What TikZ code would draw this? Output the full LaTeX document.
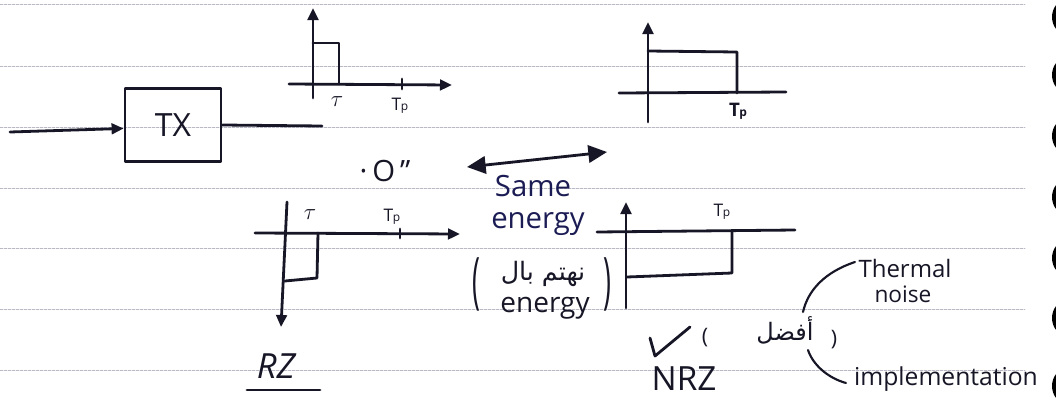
\documentclass[tikz,border=0pt]{standalone}
\usepackage{fontspec}
\setmainfont{Open Sans}
\newfontfamily\arabicfont[Script=Arabic]{DejaVu Sans}
\TeXXeTstate=1
\usetikzlibrary{arrows.meta}
\definecolor{ink}{RGB}{22,22,38}
\definecolor{blueink}{RGB}{28,28,85}
\definecolor{rulecol}{RGB}{185,185,198}
\newcommand{\fs}[1]{\fontsize{#1}{#1}\selectfont}
\newcommand{\Tpl}{T\kern-0.3pt{\fs{9}p}}
\begin{document}
\begin{tikzpicture}[x=0.75pt,y=-0.75pt,line cap=round,line join=round,
  pen/.style={draw=ink,line width=2.1pt},
  tip/.style={-{Triangle[length=9pt,width=8pt]}},
  bigtips/.style={{Triangle[length=14pt,width=13pt]}-{Triangle[length=14pt,width=13pt]}},
  lbl/.style={inner sep=0pt,text=ink},
  blbl/.style={inner sep=0pt,text=blueink}]
\fill[white] (0,0) rectangle (1056,400);
\useasboundingbox (0,0) rectangle (1056,400);
% ruled paper
\foreach \yy in {4,66,127,188,248,309,370}
  \draw[rulecol,line width=0.5pt,dash pattern=on 2pt off 1pt] (0,\yy) -- (1025,\yy);
% binder holes
\foreach \yy in {17,75,136,197,258,318,386}
  \fill[black] (1066,\yy) ellipse [x radius=14, y radius=17];

% ---- transmitter
\node[draw=ink,line width=2.1pt,minimum width=72pt,minimum height=55pt,inner sep=0pt,
      text=ink,font=\fs{24}] (tx) at (173,125) {TX};
\coordinate (in) at (10,132);
\coordinate (out) at (322,126);
\draw[pen,tip] (in) -- (tx.184);
\draw[pen] (tx.east) -- (out);

% ---- top-left pulse (short)
\draw[pen,tip] (313,98) -- (313,8);
\draw[pen,tip] (289,84) -- (452,85);
\draw[pen] (313,43) -- (339,43) -- (339,84);
\draw[pen] (402,79) -- (402,89);
\node[lbl,font=\fs{18}] (tau1) at (337,102) {$\tau$};
\node[lbl,font=\fs{13}] (tp1) at (400,106) {\Tpl};

% ---- top-right pulse (full)
\draw[pen,tip] (648,122) -- (648,22);
\draw[pen] (619,93) -- (786,92);
\draw[pen] (648,51) -- (737,52) -- (737,93);
\node[lbl,font=\fs{14}\bfseries] (tp2) at (738,111) {\Tpl};

% ---- "0"
\node[lbl,font=\fs{22}] (zero) at (385,171) {·\,O\,"};

% ---- same energy
\coordinate (eL) at (467,167);
\coordinate (eR) at (607,152);
\draw[pen,bigtips] (eL) -- (eR);
\node[blbl,font=\fs{22}] (same) at (533,186) {Same};
\node[blbl,font=\fs{22}] (energy) at (538,224) {energy};
\node[lbl,font=\fs{20}] (lp) at (476,284) {\scalebox{1}[2.3]{(}};
\node[lbl,font=\fs{20}] (rp) at (607,284) {\scalebox{1}[2.3]{)}};
\node[lbl,font=\fs{19}\arabicfont] (ar1) at (543,274) {\beginR نهتم بال\endR};
\node[lbl,font=\fs{21}] (energy2) at (545,308) {energy};

% ---- RZ
\draw[pen,tip] (255,233) -- (460,234);
\draw[pen,tip] (287,202) -- (281,327);
\draw[pen] (318,233) -- (317,278) -- (285,281);
\draw[pen] (400,229) -- (400,238);
\node[lbl,font=\fs{18}] (tau2) at (310,215) {$\tau$};
\node[lbl,font=\fs{13}] (tp3) at (392,217) {\Tpl};
\node[lbl,font=\fs{26}\itshape] (rz) at (276,366) {RZ};
\draw[pen] (247,390) -- (320,390);

% ---- NRZ
\draw[pen,tip] (626,308) -- (626,202);
\draw[pen] (597,232) -- (795,230);
\draw[pen] (732,232) -- (732,273) -- (627,277);
\node[lbl,font=\fs{13}] (tp4) at (722,212) {\Tpl};
\draw[pen] (650,338) -- (655,356) -- (690,327);
\node[lbl,font=\fs{16}] (lp2) at (705,338) {(};
\node[lbl,font=\fs{18}\arabicfont] (ar2) at (785,330) {\beginR أفضل\endR};
\node[lbl,font=\fs{16}] (rp2) at (834,340) {)};
\node[lbl,font=\fs{25}] (nrz) at (684,379) {NRZ};
\node[lbl,font=\fs{18}] (therm) at (905,268) {Thermal};
\node[lbl,font=\fs{17}] (noise) at (903,294) {noise};
\node[lbl,font=\fs{18.5}] (impl) at (946,379) {implementation};
\draw[ink,line width=1.6pt] (803,312) .. controls (808,290) and (825,272) .. (855,262);
\draw[ink,line width=1.6pt] (808,350) .. controls (813,365) and (828,378) .. (846,383);
\end{tikzpicture}
\end{document}
